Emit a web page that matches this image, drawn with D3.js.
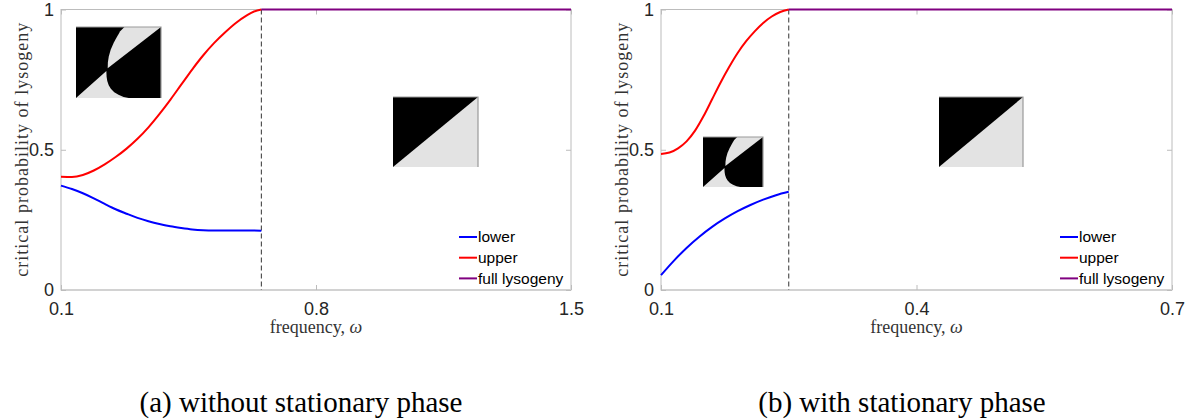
<!DOCTYPE html>
<html>
<head>
<meta charset="utf-8">
<script src="https://cdn.jsdelivr.net/npm/d3@7"></script>
<style>
  body { margin: 0; background: #fff; }
  svg { display: block; }
</style>
</head>
<body>
<svg id="fig" width="1191" height="419"></svg>
<script>
// ---- critical probabilities of lysogeny vs frequency ----
// panel (a): without stationary phase
const omegaA = [0.10, 0.13, 0.16, 0.19, 0.22, 0.25, 0.28, 0.31, 0.34, 0.37,
                0.40, 0.43, 0.46, 0.49, 0.52, 0.55, 0.58, 0.61, 0.63, 0.65];
const lowerA = [0.372, 0.360, 0.345, 0.327, 0.307, 0.288, 0.272, 0.257, 0.245, 0.235,
                0.227, 0.221, 0.216, 0.213, 0.212, 0.212, 0.212, 0.212, 0.212, 0.211];
const upperA = [0.404, 0.403, 0.410, 0.426, 0.448, 0.474, 0.504, 0.539, 0.580, 0.627,
                0.678, 0.732, 0.786, 0.836, 0.880, 0.918, 0.952, 0.979, 0.993, 1.000];
const fullOmegaA = [0.65, 1.5];
const fullA      = [1, 1];
const thresholdA = 0.65;

// panel (b): with stationary phase
const omegaLowerB = [0.100, 0.115, 0.130, 0.145, 0.160, 0.175, 0.190, 0.205, 0.220, 0.235, 0.250];
const lowerB      = [0.053, 0.104, 0.150, 0.190, 0.225, 0.255, 0.281, 0.303, 0.322, 0.338, 0.350];
const omegaUpperB = [0.100, 0.110, 0.120, 0.130, 0.140, 0.150, 0.160, 0.170, 0.180,
                     0.190, 0.200, 0.210, 0.220, 0.230, 0.240, 0.250];
const upperB      = [0.485, 0.490, 0.505, 0.530, 0.568, 0.620, 0.680, 0.740, 0.795,
                     0.845, 0.887, 0.922, 0.952, 0.975, 0.991, 1.000];
const fullOmegaB  = [0.25, 0.7];
const fullB       = [1, 1];
const thresholdB  = 0.25;

// axes
const xDomainA = [0.1, 1.5];
const xDomainB = [0.1, 0.7];
const xTicksA = [0.1, 0.8, 1.5];
const xTicksB = [0.1, 0.4, 0.7];
const yTicks  = [0, 0.5, 1];
const yTickLabels = ["0", "0.5", "1"];

// text
const legendLabels = ["lower", "upper", "full lysogeny"];
const xLabel = "frequency, ";
const yLabel = "critical probability of lysogeny";
const captions = ["(a) without stationary phase", "(b) with stationary phase"];

// ---- phase-portrait thumbnails (unit square, y downwards) ----
const splitUpper = [[0.57,0],[0.52,0.06],[0.486,0.13],[0.445,0.22],[0.408,0.32],[0.385,0.42],[0.375,0.50],[0.373,0.58],[1,0]];
const splitLower = [[0,1],[0.357,0.62],[0.36,0.70],[0.368,0.76],[0.385,0.82],[0.41,0.87],[0.45,0.92],[0.50,0.955],[0.56,0.985],[0.62,1]];
const diagLower  = [[0,1],[1,0],[1,1]];

const colors = { lower: "#0000ff", upper: "#ff0000", full: "#800080" };
const axisGray = "#bcbcbc";
const tickText = "#262626";

const svg = d3.select("#fig");

const panels = [
  {
    left: 61, right: 571, top: 9.5, bottom: 290,
    xDomain: xDomainA, xTicks: xTicksA, threshold: thresholdA,
    series: [
      { x: omegaA, y: lowerA, color: colors.lower },
      { x: omegaA, y: upperA, color: colors.upper },
      { x: fullOmegaA, y: fullA, color: colors.full }
    ],
    thumbs: [
      { x: 76, y: 27, w: 85, h: 71, kind: "split" },
      { x: 393, y: 97, w: 85, h: 70, kind: "diag" }
    ],
    yLabelX: 22, captionX: 301
  },
  {
    left: 661, right: 1172, top: 9.5, bottom: 290,
    xDomain: xDomainB, xTicks: xTicksB, threshold: thresholdB,
    series: [
      { x: omegaLowerB, y: lowerB, color: colors.lower },
      { x: omegaUpperB, y: upperB, color: colors.upper },
      { x: fullOmegaB, y: fullB, color: colors.full }
    ],
    thumbs: [
      { x: 703, y: 137, w: 60, h: 50, kind: "split" },
      { x: 939, y: 97, w: 84, h: 70, kind: "diag" }
    ],
    yLabelX: 622, captionX: 902
  }
];

panels.forEach((p, i) => {
  const x = d3.scaleLinear().domain(p.xDomain).range([p.left, p.right]);
  const y = d3.scaleLinear().domain([0, 1]).range([p.bottom, p.top]);
  const g = svg.append("g");

  // thumbnails drawn first so that the curves sit on top
  p.thumbs.forEach(t => {
    const tx = d3.scaleLinear().domain([0, 1]).range([t.x, t.x + t.w]);
    const ty = d3.scaleLinear().domain([0, 1]).range([t.y, t.y + t.h]);
    const poly = d3.line().x(d => tx(d[0])).y(d => ty(d[1])).curve(d3.curveLinearClosed);
    const tg = g.append("g");
    tg.append("rect").attr("x", t.x).attr("y", t.y).attr("width", t.w).attr("height", t.h)
      .attr("fill", "#000");
    const regions = t.kind === "split" ? [splitUpper, splitLower] : [diagLower];
    regions.forEach(r => tg.append("path").attr("d", poly(r)).attr("fill", "#e3e3e3"));
    tg.append("path")
      .attr("d", `M${t.x},${t.y}H${t.x + t.w}V${t.y + t.h}`)
      .attr("fill", "none").attr("stroke", "#9a9a9a").attr("stroke-width", 1.2);
  });

  // axes box
  g.append("rect")
    .attr("x", p.left).attr("y", p.top)
    .attr("width", p.right - p.left).attr("height", p.bottom - p.top)
    .attr("fill", "none").attr("stroke", axisGray).attr("stroke-width", 1);
  g.append("line")
    .attr("x1", p.left).attr("x2", p.right).attr("y1", p.bottom).attr("y2", p.bottom)
    .attr("stroke", "#d2d2d2").attr("stroke-width", 2);

  const styleAxis = sel => {
    sel.select(".domain").remove();
    sel.selectAll(".tick line").attr("stroke", axisGray);
    sel.selectAll(".tick text")
      .attr("fill", tickText)
      .attr("font-family", "'Liberation Sans', Arial, Helvetica, sans-serif")
      .attr("font-size", 18);
  };

  g.append("g").attr("transform", `translate(0,${p.bottom})`)
    .call(d3.axisBottom(x).tickValues(p.xTicks).tickFormat(d3.format("")).tickSizeInner(-5).tickSizeOuter(0).tickPadding(12))
    .call(styleAxis);
  g.append("g").attr("transform", `translate(0,${p.top})`)
    .call(d3.axisTop(x).tickValues(p.xTicks).tickFormat("").tickSizeInner(-5).tickSizeOuter(0))
    .call(styleAxis);
  g.append("g").attr("transform", `translate(${p.left},0)`)
    .call(d3.axisLeft(y).tickValues(yTicks).tickFormat((d, k) => yTickLabels[k]).tickSizeInner(-5).tickSizeOuter(0).tickPadding(7))
    .call(styleAxis);
  g.append("g").attr("transform", `translate(${p.right},0)`)
    .call(d3.axisRight(y).tickValues(yTicks).tickFormat("").tickSizeInner(-5).tickSizeOuter(0))
    .call(styleAxis);

  // threshold frequency
  g.append("line")
    .attr("x1", x(p.threshold)).attr("x2", x(p.threshold))
    .attr("y1", y(1)).attr("y2", y(0))
    .attr("stroke", "#333").attr("stroke-width", 1).attr("stroke-dasharray", "5,3");

  // curves
  const line = d3.line().x(d => x(d[0])).y(d => y(d[1])).curve(d3.curveMonotoneX);
  p.series.forEach(s => {
    g.append("path")
      .attr("d", line(s.x.map((v, k) => [v, s.y[k]])))
      .attr("fill", "none").attr("stroke", s.color).attr("stroke-width", 2)
      .attr("stroke-linejoin", "round");
  });

  // legend
  const lg = g.append("g");
  const legendColors = [colors.lower, colors.upper, colors.full];
  legendLabels.forEach((lab, k) => {
    const ly = p.bottom - 53 + k * 20.7;
    lg.append("line")
      .attr("x1", p.right - 112).attr("x2", p.right - 94)
      .attr("y1", ly).attr("y2", ly)
      .attr("stroke", legendColors[k]).attr("stroke-width", 2);
    lg.append("text")
      .attr("x", p.right - 93).attr("y", ly).attr("dy", "0.35em")
      .attr("font-family", "'Liberation Sans', Arial, Helvetica, sans-serif")
      .attr("font-size", 15.5).attr("fill", "#000")
      .text(lab);
  });

  // axis labels
  const xl = g.append("text")
    .attr("x", (p.left + p.right) / 2).attr("y", 333)
    .attr("text-anchor", "middle")
    .attr("font-family", "'Liberation Serif', 'Times New Roman', serif")
    .attr("font-size", 18).attr("fill", "#333");
  xl.append("tspan").text(xLabel);
  xl.append("tspan").attr("font-style", "italic").text("ω");

  g.append("text")
    .attr("transform", `translate(${p.yLabelX},${(p.top + p.bottom) / 2}) rotate(-90)`)
    .attr("text-anchor", "middle").attr("dy", "0.35em")
    .attr("font-family", "'Liberation Serif', 'Times New Roman', serif")
    .attr("font-size", 18).attr("fill", "#333")
    .attr("textLength", 254).attr("lengthAdjust", "spacing")
    .text(yLabel);

  // caption
  g.append("text")
    .attr("x", p.captionX).attr("y", 412)
    .attr("text-anchor", "middle")
    .attr("font-family", "'Liberation Serif', 'Times New Roman', serif")
    .attr("font-size", 29).attr("fill", "#000")
    .text(captions[i]);
});
</script>
</body>
</html>
